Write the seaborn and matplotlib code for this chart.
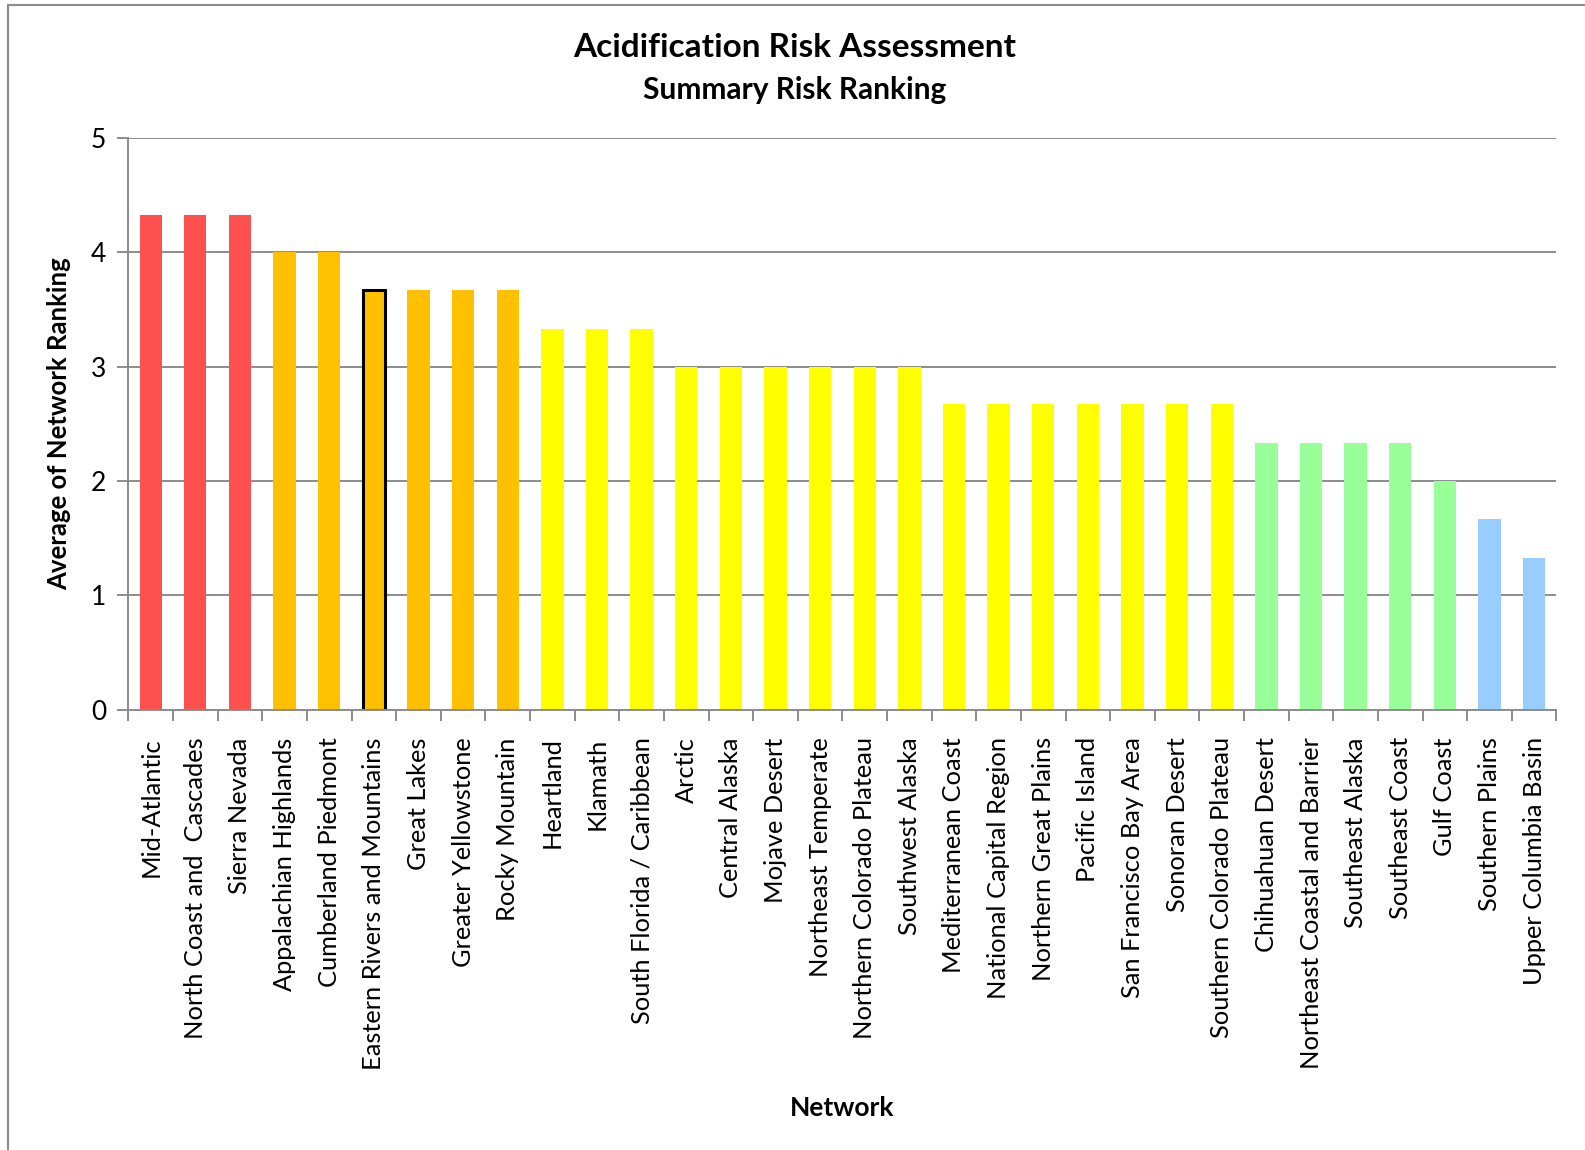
import matplotlib
matplotlib.use("Agg")
import matplotlib.pyplot as plt
import seaborn as sns
import pandas as pd
from matplotlib.patches import Rectangle

networks = [
    "Mid-Atlantic", "North Coast and  Cascades", "Sierra Nevada",
    "Appalachian Highlands", "Cumberland Piedmont", "Eastern Rivers and Mountains",
    "Great Lakes", "Greater Yellowstone", "Rocky Mountain",
    "Heartland", "Klamath", "South Florida / Caribbean",
    "Arctic", "Central Alaska", "Mojave Desert", "Northeast Temperate",
    "Northern Colorado Plateau", "Southwest Alaska",
    "Mediterranean Coast", "National Capital Region", "Northern Great Plains",
    "Pacific Island", "San Francisco Bay Area", "Sonoran Desert",
    "Southern Colorado Plateau",
    "Chihuahuan Desert", "Northeast Coastal and Barrier", "Southeast Alaska",
    "Southeast Coast", "Gulf Coast", "Southern Plains", "Upper Columbia Basin",
]
rankings = [
    4.33, 4.33, 4.33,
    4.0, 4.0, 3.67,
    3.67, 3.67, 3.67,
    3.33, 3.33, 3.33,
    3.0, 3.0, 3.0, 3.0,
    3.0, 3.0,
    2.67, 2.67, 2.67,
    2.67, 2.67, 2.67,
    2.67,
    2.33, 2.33, 2.33,
    2.33, 2.0, 1.67, 1.33,
]
risk_class = (["red"] * 3 + ["orange"] * 6 + ["yellow"] * 16 +
              ["green"] * 5 + ["blue"] * 2)
class_colors = {"red": "#FF5050", "orange": "#FFC000", "yellow": "#FFFF00",
                "green": "#99FF99", "blue": "#99CCFF"}
highlighted = "Eastern Rivers and Mountains"

df = pd.DataFrame({"Network": networks, "Ranking": rankings, "Class": risk_class})

sns.set_theme(style="white")
plt.rcParams["font.family"] = ["Lato", "DejaVu Sans"]
plt.rcParams["text.color"] = "black"
plt.rcParams["axes.labelcolor"] = "black"

fig = plt.figure(figsize=(15.85, 11.5), dpi=100)
ax = fig.add_axes([0.081, 0.383, 0.901, 0.497])

sns.barplot(data=df, x="Network", y="Ranking", hue="Class", palette=class_colors,
            dodge=False, legend=False, width=0.5, ax=ax, saturation=1)

for patch, name in zip(sorted(ax.patches, key=lambda p: p.get_x()), networks):
    if name == highlighted:
        patch.set_edgecolor("black")
        patch.set_linewidth(2.2)
    else:
        patch.set_linewidth(0)

ax.set_ylim(0, 5)
ax.set_xlim(-0.5, len(networks) - 0.5)
ax.set_yticks([0, 1, 2, 3, 4, 5])
ax.yaxis.grid(True, color="#8C8C8C", linewidth=1.4)
ax.set_axisbelow(True)
for s in ["top", "right"]:
    ax.spines[s].set_visible(False)
for s in ["left", "bottom"]:
    ax.spines[s].set_color("#8C8C8C")
    ax.spines[s].set_linewidth(1.4)

ax.set_xticks(range(len(networks)))
ax.set_xticklabels(networks, rotation=90, fontsize=18.3)
ax.tick_params(axis="x", length=0, pad=20, labelcolor="black")
ax.set_xticks([i - 0.5 for i in range(len(networks) + 1)], minor=True)
ax.tick_params(axis="x", which="minor", length=8, width=1.4, color="#8C8C8C",
               direction="out", bottom=True)
ax.tick_params(axis="y", length=8, width=1.4, color="#8C8C8C", direction="out",
               left=True, labelsize=19, pad=8, labelcolor="black")

ax.set_xlabel("Network", fontsize=19, fontweight="bold", labelpad=19)
ax.set_ylabel("Average of Network Ranking", fontsize=18.5, fontweight="bold", labelpad=14)

fig.text(0.5015, 0.959, "Acidification Risk Assessment", ha="center", va="center",
         fontsize=24, fontweight="bold")
fig.text(0.5015, 0.922, "Summary Risk Ranking", ha="center", va="center",
         fontsize=21.5, fontweight="bold")

fig.patches.append(Rectangle((0.005, -0.01), 1.1, 1.006, transform=fig.transFigure,
                             fill=False, edgecolor="#8C8C8C", linewidth=1.5))

fig.savefig("out.png", dpi=100, facecolor="white")
